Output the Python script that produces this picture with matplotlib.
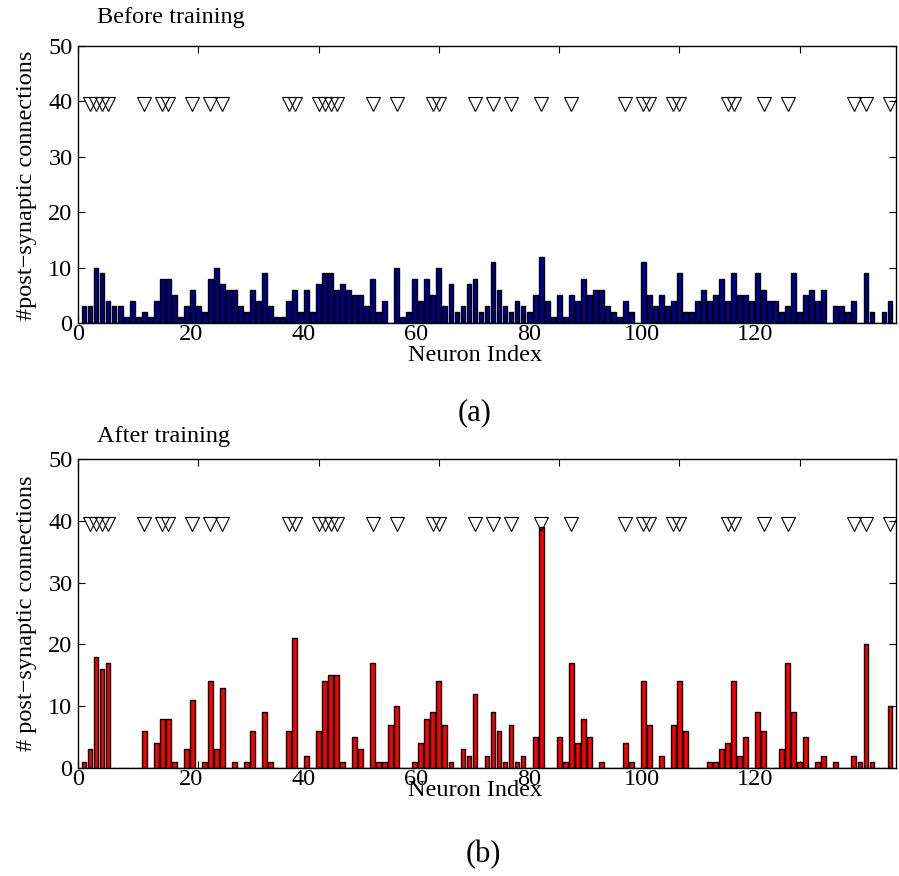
import numpy as np
import matplotlib
matplotlib.use('Agg')
import matplotlib.pyplot as plt
from matplotlib.transforms import ScaledTranslation

plt.rcParams['font.family'] = ['Liberation Serif', 'DejaVu Serif']
plt.rcParams['axes.unicode_minus'] = True

# neuron index 1..135
neurons = np.arange(1, 136)

# post-synaptic connections before training
before = [3, 3, 10, 9, 4, 3, 3, 1, 4, 1, 2, 1, 4, 8, 8, 5, 1, 3, 6, 3,
          2, 8, 10, 7, 6, 6, 3, 2, 6, 4, 9, 3, 1, 1, 4, 6, 2, 6, 2, 7,
          9, 9, 6, 7, 6, 5, 5, 3, 8, 2, 4, 0, 10, 1, 2, 8, 4, 8, 5, 10,
          3, 7, 2, 3, 7, 8, 2, 3, 11, 6, 3, 2, 4, 3, 2, 5, 12, 4, 1, 5,
          1, 5, 4, 8, 5, 6, 6, 3, 2, 1, 4, 2, 0, 11, 5, 3, 5, 3, 4, 9,
          2, 2, 4, 6, 4, 5, 8, 4, 9, 5, 5, 4, 9, 6, 4, 4, 2, 3, 9, 2,
          5, 6, 4, 6, 0, 3, 3, 2, 4, 0, 9, 2, 0, 2, 4]

# after training (neurons not listed have 0)
after_idx = [1, 2, 3, 4, 5, 11, 13, 14, 15, 16, 18, 19, 21, 22, 23, 24, 26, 28, 29, 31,
             32, 35, 36, 38, 40, 41, 42, 43, 44, 46, 47, 49, 50, 51, 52, 53, 56, 57, 58, 59,
             60, 61, 62, 64, 65, 66, 68, 69, 70, 71, 72, 73, 74, 76, 77, 80, 81, 82, 83, 84,
             85, 87, 91, 92, 94, 95, 97, 99, 100, 101, 105, 106, 107, 108, 109, 110, 111, 113, 114, 117,
             118, 119, 120, 121, 123, 124, 126, 129, 130, 131, 132, 135]
after_val = [1, 3, 18, 16, 17, 6, 4, 8, 8, 1, 3, 11, 1, 14, 3, 13, 1, 1, 6, 9,
             1, 6, 21, 2, 6, 14, 15, 15, 1, 5, 3, 17, 1, 1, 7, 10, 1, 4, 8, 9,
             14, 7, 1, 3, 2, 12, 2, 9, 6, 1, 7, 1, 2, 5, 39, 5, 1, 17, 4, 8,
             5, 1, 4, 1, 14, 7, 2, 7, 14, 6, 1, 1, 3, 4, 14, 2, 5, 9, 6, 3,
             17, 9, 1, 5, 1, 2, 1, 2, 1, 20, 1, 10]
after = np.zeros(135)
after[np.array(after_idx) - 1] = after_val

# marked neurons (triangles)
marked = [2, 3, 4, 5, 11, 14, 15, 19, 22, 24, 35, 36, 40, 41, 42, 43, 49, 53, 59, 60,
          66, 69, 72, 77, 82, 91, 94, 95, 99, 100, 108, 109, 114, 118, 129, 131, 135]
marker_level = 39.5

fig = plt.figure(figsize=(8.99, 8.76), dpi=100)
ax1 = fig.add_axes([78/899, 1 - 323/876, 818/899, 277/876])
ax2 = fig.add_axes([78/899, 1 - 768/876, 818/899, 309/876])

fs = 17.5
xt = list(range(0, 121, 20))
for ax, vals, col in [(ax1, before, '#00008B'), (ax2, after, '#FF0000')]:
    ax.bar(neurons, vals, width=0.8, color=col, edgecolor='black', linewidth=1.0, zorder=2)
    ax.plot(marked, [marker_level] * len(marked), linestyle='none', marker='v', markersize=10.5,
            markerfacecolor='none', markeredgecolor='black', markeredgewidth=0.8, zorder=3)
    ax.set_xlim(0, 136)
    ax.set_ylim(0, 50)
    ax.set_xticks(xt)
    ax.set_yticks(range(0, 51, 10))
    ax.tick_params(direction='in', top=True, right=True, length=5, width=0.8, labelsize=fs)
    ax.tick_params(axis='x', pad=1)
    ax.tick_params(axis='y', pad=4)
    # tick labels sit a little left of the tick marks, as in the original export
    for v, lab in zip(xt, ax.get_xticklabels()):
        lab.set_transform(lab.get_transform() + ScaledTranslation(-0.374 * v / 100, 0, fig.dpi_scale_trans))
    for s in ax.spines.values():
        s.set_linewidth(1.0)

fig.text(97/899, 1 - 18/876, 'Before training', fontsize=fs, va='center', ha='left')
fig.text(97/899, 1 - 437/876, 'After training', fontsize=fs, va='center', ha='left')
fig.text(475/899, 1 - 356/876, 'Neuron Index', fontsize=fs, va='center', ha='center')
fig.text(475/899, 1 - 790/876, 'Neuron Index', fontsize=fs, va='center', ha='center')
fig.text(475/899, 1 - 413/876, '(a)', fontsize=22, va='center', ha='center')
fig.text(483/899, 1 - 855/876, '(b)', fontsize=22, va='center', ha='center')
fig.text(27/899, 1 - 185/876, '#post\u2212synaptic connections', fontsize=fs, va='center', ha='center', rotation=90)
fig.text(27/899, 1 - 613/876, '# post\u2212synaptic connections', fontsize=fs, va='center', ha='center', rotation=90)

fig.savefig('out.png', dpi=100)
